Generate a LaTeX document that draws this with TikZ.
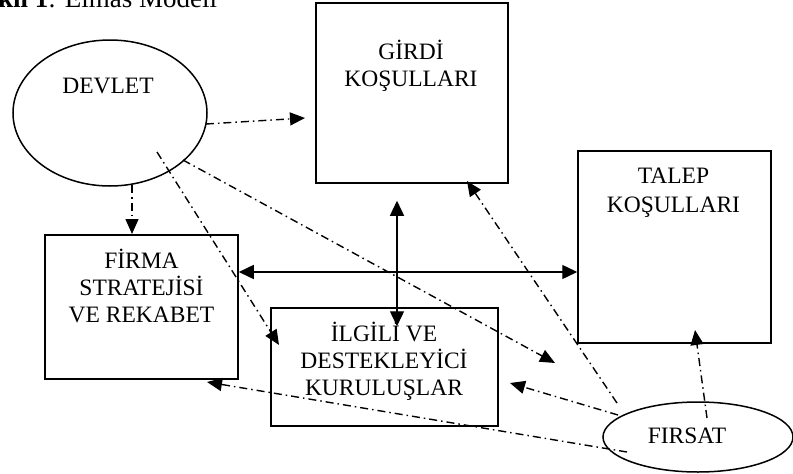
\documentclass[tikz,border=0pt]{standalone}
\usepackage{fontspec}
\setmainfont{Liberation Serif}
\usetikzlibrary{arrows.meta,shapes.geometric}
\tikzset{
  box/.style={draw, line width=1.5pt, rectangle, inner sep=0pt},
  oval/.style={draw, line width=1.5pt, ellipse, inner sep=0pt},
  lbl/.style={inner sep=0pt, anchor=base, align=center, font=\fontsize{23.5pt}{27pt}\selectfont},
  solidarrow/.style={line width=1.4pt, {Triangle[length=15pt,width=14pt]}-{Triangle[length=15pt,width=14pt]}},
  dd/.style={line width=1.4pt, dash pattern=on 8pt off 4pt on 1.5pt off 4pt, -{Triangle[length=15pt,width=13pt]}}
}
\begin{document}
\begin{tikzpicture}[x=1pt,y=-1pt]
\useasboundingbox (0,0) rectangle (793,474);
% title (cropped at top-left, as in the reference)
\node[inner sep=0pt, anchor=base west, font=\fontsize{27pt}{30pt}\selectfont] (title) at (-2,7) {\textbf{kil 1}: Elmas Modeli};
% shapes
\node[oval, minimum width=194pt, minimum height=146pt] (devlet) at (110,113) {};
\node[box, minimum width=192pt, minimum height=180pt] (girdi) at (412,93) {};
\node[box, minimum width=193pt, minimum height=192pt] (talep) at (674.5,247) {};
\node[box, minimum width=193pt, minimum height=144pt] (firma) at (141.5,307) {};
\node[box, minimum width=227pt, minimum height=118pt] (ilgili) at (384.5,367) {};
\node[oval, minimum width=190pt, minimum height=70pt] (firsat) at (698,437) {};
% texts (base anchor = baseline of last line)
\node[lbl] (tdevlet) at (108,93) {DEVLET};
\node[lbl] (tgirdi) at (411,86.5) {GİRDİ\\KOŞULLARI};
\node[lbl] (ttalep) at (673.5,212) {TALEP\\[2pt]KOŞULLARI};
\node[lbl] (tfirma) at (141.5,322) {FİRMA\\STRATEJİSİ\\VE REKABET};
\node[lbl] (tilgili) at (384,395.5) {İLGİLİ VE\\DESTEKLEYİCİ\\KURULUŞLAR};
\node[lbl] (tfirsat) at (687,443) {FIRSAT};
% solid double arrows
\draw[solidarrow] ([yshift=35pt]firma.east) -- ([yshift=-25pt]talep.west);
\draw[solidarrow] ([xshift=-15pt,yshift=-17pt]girdi.south) -- ([xshift=12.5pt,yshift=-19pt]ilgili.north);
% dash-dot arrows from DEVLET
\draw[dd] ([shift={(96,11)}]devlet.center) -- ([shift={(-107,25)}]girdi.center);
\draw[dd] ([shift={(22,72)}]devlet.center) -- ([shift={(-9.5,-73)}]firma.center);
\draw[dd] ([shift={(47,39)}]devlet.center) -- ([shift={(-105.5,-22)}]ilgili.center);
\draw[dd] ([shift={(73,47)}]devlet.center) -- ([shift={(-119.5,116)}]talep.center);
% dash-dot arrows from FIRSAT
\draw[dd] ([shift={(-81,-34)}]firsat.center) -- ([shift={(55,88)}]girdi.center);
\draw[dd] ([shift={(9,-19)}]firsat.center) -- ([shift={(20.5,83)}]talep.center);
\draw[dd] ([shift={(-80,-22)}]firsat.center) -- ([shift={(125.5,16)}]ilgili.center);
\draw[dd] ([shift={(-71,15)}]firsat.center) -- ([shift={(65.5,75)}]firma.center);
\end{tikzpicture}
\end{document}
